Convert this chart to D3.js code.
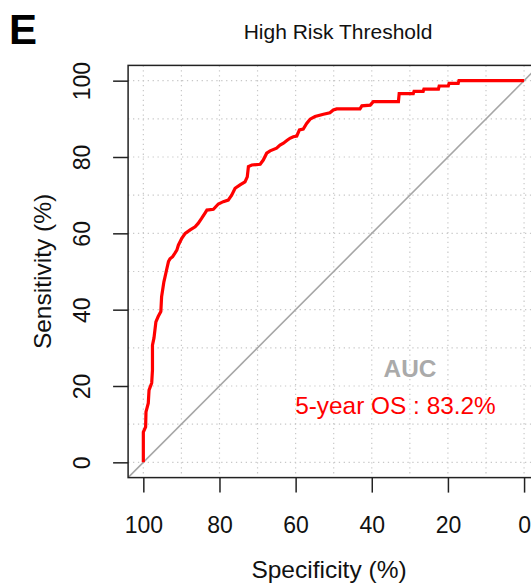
<!DOCTYPE html>
<html>
<head>
<meta charset="utf-8">
<script src="https://cdn.jsdelivr.net/npm/d3@7"></script>
<style>
  html, body { margin: 0; padding: 0; background: #fff; overflow: hidden; }
  svg { display: block; font-family: "Liberation Sans", Arial, sans-serif; }
</style>
</head>
<body>
<div id="chart"></div>
<script>
// ---- data ----
const titleText = "High Risk Threshold";
const panelLabel = "E";
const xTicks = [100, 80, 60, 40, 20, 0];
const yTicks = [0, 20, 40, 60, 80, 100];
const gridVals = [0, 10, 20, 30, 40, 50, 60, 70, 80, 90, 100];
// ROC curve points (specificity %, sensitivity %)
const specificity = [100, 100, 99.4, 99.3, 98.7, 98.5, 97.8, 97.6, 97.6, 97.2, 96.7, 96.1, 95.4, 95.2, 94.6, 94.3, 93.9, 93.4, 93.0, 92.3,
  91.7, 91.2, 90.8, 89.9, 89.0, 87.7, 86.4, 85.6, 84.7, 83.8, 83.3, 81.6, 80.3, 79.0, 77.7, 76.8, 75.9, 74.6, 73.3, 72.7,
  72.4, 71.5, 69.3, 68.5, 67.6, 66.7, 65.0, 64.1, 63.2, 62.3, 61.5, 60.6, 59.7, 59.0, 58.0, 57.1, 56.2, 54.9, 52.7, 51.0,
  50.1, 49.2, 43.1, 42.6, 40.4, 39.6, 33.0, 32.8, 29.1, 28.9, 26.5, 26.3, 22.5, 22.3, 19.9, 19.7, 17.3, 17.1, 0];
const sensitivity = [0, 7.9, 9.3, 13.2, 15.5, 18.9, 20.8, 24.2, 30.7, 32.6, 36.8, 38.2, 39.5, 43.4, 47.3, 48.6, 50.4, 52.6, 53.3, 53.9,
  54.8, 55.6, 56.9, 58.7, 60.0, 60.9, 61.7, 62.6, 63.9, 65.3, 66.1, 66.3, 67.7, 68.3, 68.7, 70.0, 71.8, 72.7, 73.5, 74.8,
  77.5, 77.9, 78.1, 79.2, 81.0, 81.6, 82.3, 83.1, 83.6, 84.3, 84.9, 85.3, 85.5, 87.1, 87.3, 88.8, 89.9, 90.6, 91.2, 91.6,
  92.3, 92.6, 92.6, 93.4, 93.6, 94.5, 94.5, 96.6, 96.6, 97.2, 97.2, 97.8, 97.8, 98.6, 98.6, 99.3, 99.3, 100, 100];
const aucLabel = "AUC";
const aucText = "5-year OS : 83.2%";

// ---- layout ----
const W = 531, H = 583;
const svg = d3.select("#chart").append("svg").attr("width", W).attr("height", H);

const x = d3.scaleLinear().domain([104, -4]).range([128.1, 539.3]);
const y = d3.scaleLinear().domain([-4, 104]).range([477.6, 65.4]);

const x0 = x.range()[0], x1 = x.range()[1], yb = y.range()[0], yt = y.range()[1];

svg.append("defs").append("clipPath").attr("id", "plotclip")
  .append("rect").attr("x", x0).attr("y", yt).attr("width", x1 - x0).attr("height", yb - yt);

// grid
const grid = svg.append("g").attr("stroke", "#c8c8c8").attr("stroke-width", 1.2)
  .attr("stroke-dasharray", "1.3,3.6").attr("fill", "none");
gridVals.forEach(v => {
  grid.append("line").attr("x1", x(v)).attr("x2", x(v)).attr("y1", yt).attr("y2", yb);
  grid.append("line").attr("x1", x0).attr("x2", x1).attr("y1", y(v)).attr("y2", y(v));
});

// diagonal
svg.append("line").attr("clip-path", "url(#plotclip)")
  .attr("x1", x(104)).attr("y1", y(-4)).attr("x2", x(-4)).attr("y2", y(104))
  .attr("stroke", "#a6a6a6").attr("stroke-width", 1.6);

// ROC curve
const pts = specificity.map((s, i) => [s, sensitivity[i]]);
svg.append("path").datum(pts)
  .attr("d", d3.line().x(d => x(d[0])).y(d => y(d[1])))
  .attr("fill", "none").attr("stroke", "#ff0000").attr("stroke-width", 3.2)
  .attr("stroke-linejoin", "miter");

// box
svg.append("rect").attr("x", x0).attr("y", yt).attr("width", x1 - x0).attr("height", yb - yt)
  .attr("fill", "none").attr("stroke", "#222").attr("stroke-width", 1.5);

// axes
const xAxis = d3.axisBottom(x).tickValues(xTicks).tickSize(15).tickPadding(24).tickFormat(d3.format("d"));
const gx = svg.append("g").attr("transform", `translate(0,${yb})`).call(xAxis);
gx.select(".domain").remove();
gx.selectAll(".tick line").attr("stroke", "#222").attr("stroke-width", 1.5);
gx.selectAll(".tick text").attr("font-size", 23).attr("fill", "#111")
  .attr("font-family", "Liberation Sans, Arial, sans-serif").attr("dy", "0.71em");

const yAxis = d3.axisLeft(y).tickValues(yTicks).tickSize(15).tickFormat(d3.format("d"));
const gy = svg.append("g").attr("transform", `translate(${x0},0)`).call(yAxis);
gy.select(".domain").remove();
gy.selectAll(".tick line").attr("stroke", "#222").attr("stroke-width", 1.5);
gy.selectAll(".tick text").remove();
gy.selectAll(".tick").append("text")
  .attr("transform", "translate(-38,0) rotate(-90)")
  .attr("text-anchor", "middle").attr("font-size", 23).attr("fill", "#111")
  .attr("font-family", "Liberation Sans, Arial, sans-serif")
  .text(d => d);

// labels
svg.append("text").attr("x", 329).attr("y", 578).attr("text-anchor", "middle")
  .attr("font-size", 24.5).attr("fill", "#111").text("Specificity (%)");
svg.append("text").attr("transform", `translate(51,${(yt + yb) / 2}) rotate(-90)`)
  .attr("text-anchor", "middle").attr("font-size", 24.5).attr("fill", "#111").text("Sensitivity (%)");

svg.append("text").attr("x", 338).attr("y", 39).attr("text-anchor", "middle")
  .attr("font-size", 21).attr("fill", "#111").text(titleText);
svg.append("text").attr("x", 9).attr("y", 44).attr("font-size", 42).attr("font-weight", "bold")
  .attr("fill", "#000").text(panelLabel);

// AUC annotation
svg.append("text").attr("x", 410).attr("y", 377).attr("text-anchor", "middle")
  .attr("font-size", 24.4).attr("font-weight", "bold").attr("fill", "#aaaaaa").text(aucLabel);
svg.append("text").attr("x", 395.5).attr("y", 414).attr("text-anchor", "middle")
  .attr("font-size", 24.4).attr("fill", "#ff0000").text(aucText);
</script>
</body>
</html>
